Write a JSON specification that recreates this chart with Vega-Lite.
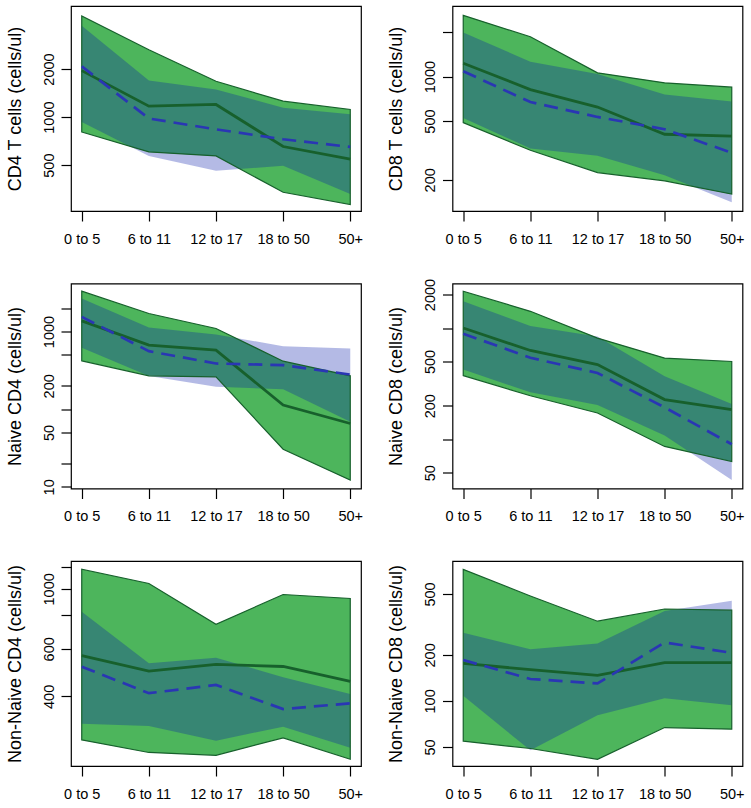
{
  "$schema": "https://vega.github.io/schema/vega-lite/v6.json",
  "background": "white",
  "padding": {"left": 5, "top": 5, "right": 5, "bottom": 5},
  "bounds": "flush",
  "columns": 2,
  "spacing": {"row": 72.5, "column": 91.5},
  "datasets": {
    "cells": [
      {"panel": "CD4", "age": "0 to 5", "g_lo": 806, "g_hi": 4300, "g_med": 1955, "b_lo": 930, "b_hi": 3730, "b_med": 2080},
      {"panel": "CD4", "age": "6 to 11", "g_lo": 605, "g_hi": 2640, "g_med": 1171, "b_lo": 571, "b_hi": 1693, "b_med": 980},
      {"panel": "CD4", "age": "12 to 17", "g_lo": 571, "g_hi": 1676, "g_med": 1200, "b_lo": 461, "b_hi": 1488, "b_med": 838},
      {"panel": "CD4", "age": "18 to 50", "g_lo": 338, "g_hi": 1258, "g_med": 654, "b_lo": 495, "b_hi": 1145, "b_med": 726},
      {"panel": "CD4", "age": "50+", "g_lo": 283, "g_hi": 1117, "g_med": 545, "b_lo": 330, "b_hi": 1040, "b_med": 650},

      {"panel": "CD8", "age": "0 to 5", "g_lo": 488, "g_hi": 2600, "g_med": 1231, "b_lo": 525, "b_hi": 1990, "b_med": 1087},
      {"panel": "CD8", "age": "6 to 11", "g_lo": 317, "g_hi": 1860, "g_med": 817, "b_lo": 326, "b_hi": 1262, "b_med": 672},
      {"panel": "CD8", "age": "12 to 17", "g_lo": 224, "g_hi": 1060, "g_med": 622, "b_lo": 291, "b_hi": 1042, "b_med": 533},
      {"panel": "CD8", "age": "18 to 50", "g_lo": 197, "g_hi": 907, "g_med": 407, "b_lo": 215, "b_hi": 756, "b_med": 440},
      {"panel": "CD8", "age": "50+", "g_lo": 160, "g_hi": 848, "g_med": 395, "b_lo": 141, "b_hi": 679, "b_med": 305},

      {"panel": "NCD4", "age": "0 to 5", "g_lo": 419, "g_hi": 3305, "g_med": 1372, "b_lo": 616, "b_hi": 2660, "b_med": 1545},
      {"panel": "NCD4", "age": "6 to 11", "g_lo": 269, "g_hi": 1706, "g_med": 667, "b_lo": 268, "b_hi": 1127, "b_med": 558},
      {"panel": "NCD4", "age": "12 to 17", "g_lo": 261, "g_hi": 1093, "g_med": 575, "b_lo": 194, "b_hi": 915, "b_med": 387},
      {"panel": "NCD4", "age": "18 to 50", "g_lo": 30.5, "g_hi": 415, "g_med": 113, "b_lo": 181, "b_hi": 647, "b_med": 369},
      {"panel": "NCD4", "age": "50+", "g_lo": 12.2, "g_hi": 269, "g_med": 65.4, "b_lo": 68.7, "b_hi": 604, "b_med": 279},

      {"panel": "NCD8", "age": "0 to 5", "g_lo": 373, "g_hi": 2143, "g_med": 1000, "b_lo": 423, "b_hi": 1741, "b_med": 889},
      {"panel": "NCD8", "age": "6 to 11", "g_lo": 246, "g_hi": 1413, "g_med": 628, "b_lo": 264, "b_hi": 1042, "b_med": 540},
      {"panel": "NCD8", "age": "12 to 17", "g_lo": 172, "g_hi": 812, "g_med": 469, "b_lo": 203, "b_hi": 840, "b_med": 394},
      {"panel": "NCD8", "age": "18 to 50", "g_lo": 86, "g_hi": 536, "g_med": 227, "b_lo": 108, "b_hi": 368, "b_med": 193},
      {"panel": "NCD8", "age": "50+", "g_lo": 63, "g_hi": 500, "g_med": 184, "b_lo": 43, "b_hi": 207, "b_med": 90},

      {"panel": "NNCD4", "age": "0 to 5", "g_lo": 276, "g_hi": 1182, "g_med": 566, "b_lo": 317, "b_hi": 822, "b_med": 515},
      {"panel": "NNCD4", "age": "6 to 11", "g_lo": 248, "g_hi": 1047, "g_med": 496, "b_lo": 311, "b_hi": 531, "b_med": 411},
      {"panel": "NNCD4", "age": "12 to 17", "g_lo": 242, "g_hi": 739, "g_med": 525, "b_lo": 274, "b_hi": 556, "b_med": 441},
      {"panel": "NNCD4", "age": "18 to 50", "g_lo": 281, "g_hi": 953, "g_med": 516, "b_lo": 309, "b_hi": 471, "b_med": 359},
      {"panel": "NNCD4", "age": "50+", "g_lo": 234, "g_hi": 921, "g_med": 455, "b_lo": 258, "b_hi": 408, "b_med": 377},

      {"panel": "NNCD8", "age": "0 to 5", "g_lo": 54.5, "g_hi": 725, "g_med": 176, "b_lo": 108, "b_hi": 279, "b_med": 185},
      {"panel": "NNCD8", "age": "6 to 11", "g_lo": 48.8, "g_hi": 485, "g_med": 160, "b_lo": 47.5, "b_hi": 218, "b_med": 139},
      {"panel": "NNCD8", "age": "12 to 17", "g_lo": 41.5, "g_hi": 332, "g_med": 147, "b_lo": 80.5, "b_hi": 237, "b_med": 130},
      {"panel": "NNCD8", "age": "18 to 50", "g_lo": 66.9, "g_hi": 399, "g_med": 178, "b_lo": 104, "b_hi": 387, "b_med": 241},
      {"panel": "NNCD8", "age": "50+", "g_lo": 65.3, "g_hi": 392, "g_med": 178, "b_lo": 93.7, "b_hi": 452, "b_med": 206}
    ]
  },
  "data": {"name": "cells"},
  "concat": [
    {
      "width": 290, "height": 205,
      "transform": [{"filter": "datum.panel === 'CD4'"}],
      "encoding": {"x": {"field": "age", "type": "ordinal", "title": null, "scale": {"type": "point", "domain": ["0 to 5", "6 to 11", "12 to 17", "18 to 50", "50+"], "padding": 0.16}}},
      "layer": [
        {"mark": {"type": "area", "color": "#4db55c"}, "encoding": {"y": {"field": "g_lo", "type": "quantitative", "title": "CD4 T cells (cells/ul)", "scale": {"type": "log", "domain": [258, 4966], "nice": false, "zero": false}, "axis": {"values": [500, 1000, 2000], "format": "d"}}, "y2": {"field": "g_hi"}}},
        {"mark": {"type": "area", "color": "#0519aa", "opacity": 0.3}, "encoding": {"y": {"field": "b_lo", "type": "quantitative", "title": "CD4 T cells (cells/ul)"}, "y2": {"field": "b_hi"}}},
        {"mark": {"type": "area", "fillOpacity": 0, "stroke": "#17602c", "strokeWidth": 1.2}, "encoding": {"y": {"field": "g_lo", "type": "quantitative", "title": "CD4 T cells (cells/ul)"}, "y2": {"field": "g_hi"}}},
        {"mark": {"type": "line", "color": "#17602c", "strokeWidth": 2.8}, "encoding": {"y": {"field": "g_med", "type": "quantitative", "title": "CD4 T cells (cells/ul)"}}},
        {"mark": {"type": "line", "color": "#2a36b4", "strokeWidth": 2.7, "strokeDash": [14, 8]}, "encoding": {"y": {"field": "b_med", "type": "quantitative", "title": "CD4 T cells (cells/ul)"}}}
      ]
    },
    {
      "width": 290, "height": 205,
      "transform": [{"filter": "datum.panel === 'CD8'"}],
      "encoding": {"x": {"field": "age", "type": "ordinal", "title": null, "scale": {"type": "point", "domain": ["0 to 5", "6 to 11", "12 to 17", "18 to 50", "50+"], "padding": 0.16}}},
      "layer": [
        {"mark": {"type": "area", "color": "#4db55c"}, "encoding": {"y": {"field": "g_lo", "type": "quantitative", "title": "CD8 T cells (cells/ul)", "scale": {"type": "log", "domain": [123, 3006], "nice": false, "zero": false}, "axis": {"values": [200, 500, 1000, 2000], "format": "d", "labelExpr": "datum.value == 2000 ? '' : datum.label"}}, "y2": {"field": "g_hi"}}},
        {"mark": {"type": "area", "color": "#0519aa", "opacity": 0.3}, "encoding": {"y": {"field": "b_lo", "type": "quantitative", "title": "CD8 T cells (cells/ul)"}, "y2": {"field": "b_hi"}}},
        {"mark": {"type": "area", "fillOpacity": 0, "stroke": "#17602c", "strokeWidth": 1.2}, "encoding": {"y": {"field": "g_lo", "type": "quantitative", "title": "CD8 T cells (cells/ul)"}, "y2": {"field": "g_hi"}}},
        {"mark": {"type": "line", "color": "#17602c", "strokeWidth": 2.8}, "encoding": {"y": {"field": "g_med", "type": "quantitative", "title": "CD8 T cells (cells/ul)"}}},
        {"mark": {"type": "line", "color": "#2a36b4", "strokeWidth": 2.7, "strokeDash": [14, 8]}, "encoding": {"y": {"field": "b_med", "type": "quantitative", "title": "CD8 T cells (cells/ul)"}}}
      ]
    },
    {
      "width": 290, "height": 205,
      "transform": [{"filter": "datum.panel === 'NCD4'"}],
      "encoding": {"x": {"field": "age", "type": "ordinal", "title": null, "scale": {"type": "point", "domain": ["0 to 5", "6 to 11", "12 to 17", "18 to 50", "50+"], "padding": 0.16}}},
      "layer": [
        {"mark": {"type": "area", "color": "#4db55c"}, "encoding": {"y": {"field": "g_lo", "type": "quantitative", "title": "Naive CD4  (cells/ul)", "scale": {"type": "log", "domain": [9.52, 4150], "nice": false, "zero": false}, "axis": {"values": [10, 20, 50, 100, 200, 500, 1000, 2000], "format": "d", "labelExpr": "indexof([10, 50, 200, 1000], datum.value) >= 0 ? datum.label : ''"}}, "y2": {"field": "g_hi"}}},
        {"mark": {"type": "area", "color": "#0519aa", "opacity": 0.3}, "encoding": {"y": {"field": "b_lo", "type": "quantitative", "title": "Naive CD4  (cells/ul)"}, "y2": {"field": "b_hi"}}},
        {"mark": {"type": "area", "fillOpacity": 0, "stroke": "#17602c", "strokeWidth": 1.2}, "encoding": {"y": {"field": "g_lo", "type": "quantitative", "title": "Naive CD4  (cells/ul)"}, "y2": {"field": "g_hi"}}},
        {"mark": {"type": "line", "color": "#17602c", "strokeWidth": 2.8}, "encoding": {"y": {"field": "g_med", "type": "quantitative", "title": "Naive CD4  (cells/ul)"}}},
        {"mark": {"type": "line", "color": "#2a36b4", "strokeWidth": 2.7, "strokeDash": [14, 8]}, "encoding": {"y": {"field": "b_med", "type": "quantitative", "title": "Naive CD4  (cells/ul)"}}}
      ]
    },
    {
      "width": 290, "height": 205,
      "transform": [{"filter": "datum.panel === 'NCD8'"}],
      "encoding": {"x": {"field": "age", "type": "ordinal", "title": null, "scale": {"type": "point", "domain": ["0 to 5", "6 to 11", "12 to 17", "18 to 50", "50+"], "padding": 0.16}}},
      "layer": [
        {"mark": {"type": "area", "color": "#4db55c"}, "encoding": {"y": {"field": "g_lo", "type": "quantitative", "title": "Naive CD8 (cells/ul)", "scale": {"type": "log", "domain": [36, 2514], "nice": false, "zero": false}, "axis": {"values": [50, 100, 200, 500, 1000, 2000], "format": "d", "labelExpr": "indexof([50, 200, 500, 2000], datum.value) >= 0 ? datum.label : ''"}}, "y2": {"field": "g_hi"}}},
        {"mark": {"type": "area", "color": "#0519aa", "opacity": 0.3}, "encoding": {"y": {"field": "b_lo", "type": "quantitative", "title": "Naive CD8 (cells/ul)"}, "y2": {"field": "b_hi"}}},
        {"mark": {"type": "area", "fillOpacity": 0, "stroke": "#17602c", "strokeWidth": 1.2}, "encoding": {"y": {"field": "g_lo", "type": "quantitative", "title": "Naive CD8 (cells/ul)"}, "y2": {"field": "g_hi"}}},
        {"mark": {"type": "line", "color": "#17602c", "strokeWidth": 2.8}, "encoding": {"y": {"field": "g_med", "type": "quantitative", "title": "Naive CD8 (cells/ul)"}}},
        {"mark": {"type": "line", "color": "#2a36b4", "strokeWidth": 2.7, "strokeDash": [14, 8]}, "encoding": {"y": {"field": "b_med", "type": "quantitative", "title": "Naive CD8 (cells/ul)"}}}
      ]
    },
    {
      "width": 290, "height": 205,
      "transform": [{"filter": "datum.panel === 'NNCD4'"}],
      "encoding": {"x": {"field": "age", "type": "ordinal", "title": null, "scale": {"type": "point", "domain": ["0 to 5", "6 to 11", "12 to 17", "18 to 50", "50+"], "padding": 0.16}}},
      "layer": [
        {"mark": {"type": "area", "color": "#4db55c"}, "encoding": {"y": {"field": "g_lo", "type": "quantitative", "title": "Non-Naive CD4 (cells/ul)", "scale": {"type": "log", "domain": [221, 1268], "nice": false, "zero": false}, "axis": {"values": [400, 600, 800, 1000, 1200], "format": "d", "labelExpr": "indexof([400, 600, 1000], datum.value) >= 0 ? datum.label : ''"}}, "y2": {"field": "g_hi"}}},
        {"mark": {"type": "area", "color": "#0519aa", "opacity": 0.3}, "encoding": {"y": {"field": "b_lo", "type": "quantitative", "title": "Non-Naive CD4 (cells/ul)"}, "y2": {"field": "b_hi"}}},
        {"mark": {"type": "area", "fillOpacity": 0, "stroke": "#17602c", "strokeWidth": 1.2}, "encoding": {"y": {"field": "g_lo", "type": "quantitative", "title": "Non-Naive CD4 (cells/ul)"}, "y2": {"field": "g_hi"}}},
        {"mark": {"type": "line", "color": "#17602c", "strokeWidth": 2.8}, "encoding": {"y": {"field": "g_med", "type": "quantitative", "title": "Non-Naive CD4 (cells/ul)"}}},
        {"mark": {"type": "line", "color": "#2a36b4", "strokeWidth": 2.7, "strokeDash": [14, 8]}, "encoding": {"y": {"field": "b_med", "type": "quantitative", "title": "Non-Naive CD4 (cells/ul)"}}}
      ]
    },
    {
      "width": 290, "height": 205,
      "transform": [{"filter": "datum.panel === 'NNCD8'"}],
      "encoding": {"x": {"field": "age", "type": "ordinal", "title": null, "scale": {"type": "point", "domain": ["0 to 5", "6 to 11", "12 to 17", "18 to 50", "50+"], "padding": 0.16}}},
      "layer": [
        {"mark": {"type": "area", "color": "#4db55c"}, "encoding": {"y": {"field": "g_lo", "type": "quantitative", "title": "Non-Naive CD8 (cells/ul)", "scale": {"type": "log", "domain": [37.5, 822], "nice": false, "zero": false}, "axis": {"values": [50, 100, 200, 500], "format": "d"}}, "y2": {"field": "g_hi"}}},
        {"mark": {"type": "area", "color": "#0519aa", "opacity": 0.3}, "encoding": {"y": {"field": "b_lo", "type": "quantitative", "title": "Non-Naive CD8 (cells/ul)"}, "y2": {"field": "b_hi"}}},
        {"mark": {"type": "area", "fillOpacity": 0, "stroke": "#17602c", "strokeWidth": 1.2}, "encoding": {"y": {"field": "g_lo", "type": "quantitative", "title": "Non-Naive CD8 (cells/ul)"}, "y2": {"field": "g_hi"}}},
        {"mark": {"type": "line", "color": "#17602c", "strokeWidth": 2.8}, "encoding": {"y": {"field": "g_med", "type": "quantitative", "title": "Non-Naive CD8 (cells/ul)"}}},
        {"mark": {"type": "line", "color": "#2a36b4", "strokeWidth": 2.7, "strokeDash": [14, 8]}, "encoding": {"y": {"field": "b_med", "type": "quantitative", "title": "Non-Naive CD8 (cells/ul)"}}}
      ]
    }
  ],
  "config": {
    "view": {"stroke": "black", "strokeWidth": 1.2},
    "axis": {"domain": false, "grid": false, "tickColor": "black", "tickSize": 10, "tickWidth": 1.2, "labelFont": "Liberation Sans", "labelFontSize": 14.5, "labelColor": "black", "labelOverlap": false, "labelFlush": false, "titleFont": "Liberation Sans", "titleFontSize": 18, "titleFontWeight": "normal", "titleColor": "black"},
    "axisX": {"labelAngle": 0, "labelPadding": 11},
    "axisY": {"labelAngle": -90, "labelAlign": "center", "labelBaseline": "bottom", "labelPadding": 5, "titlePadding": 17}
  }
}
